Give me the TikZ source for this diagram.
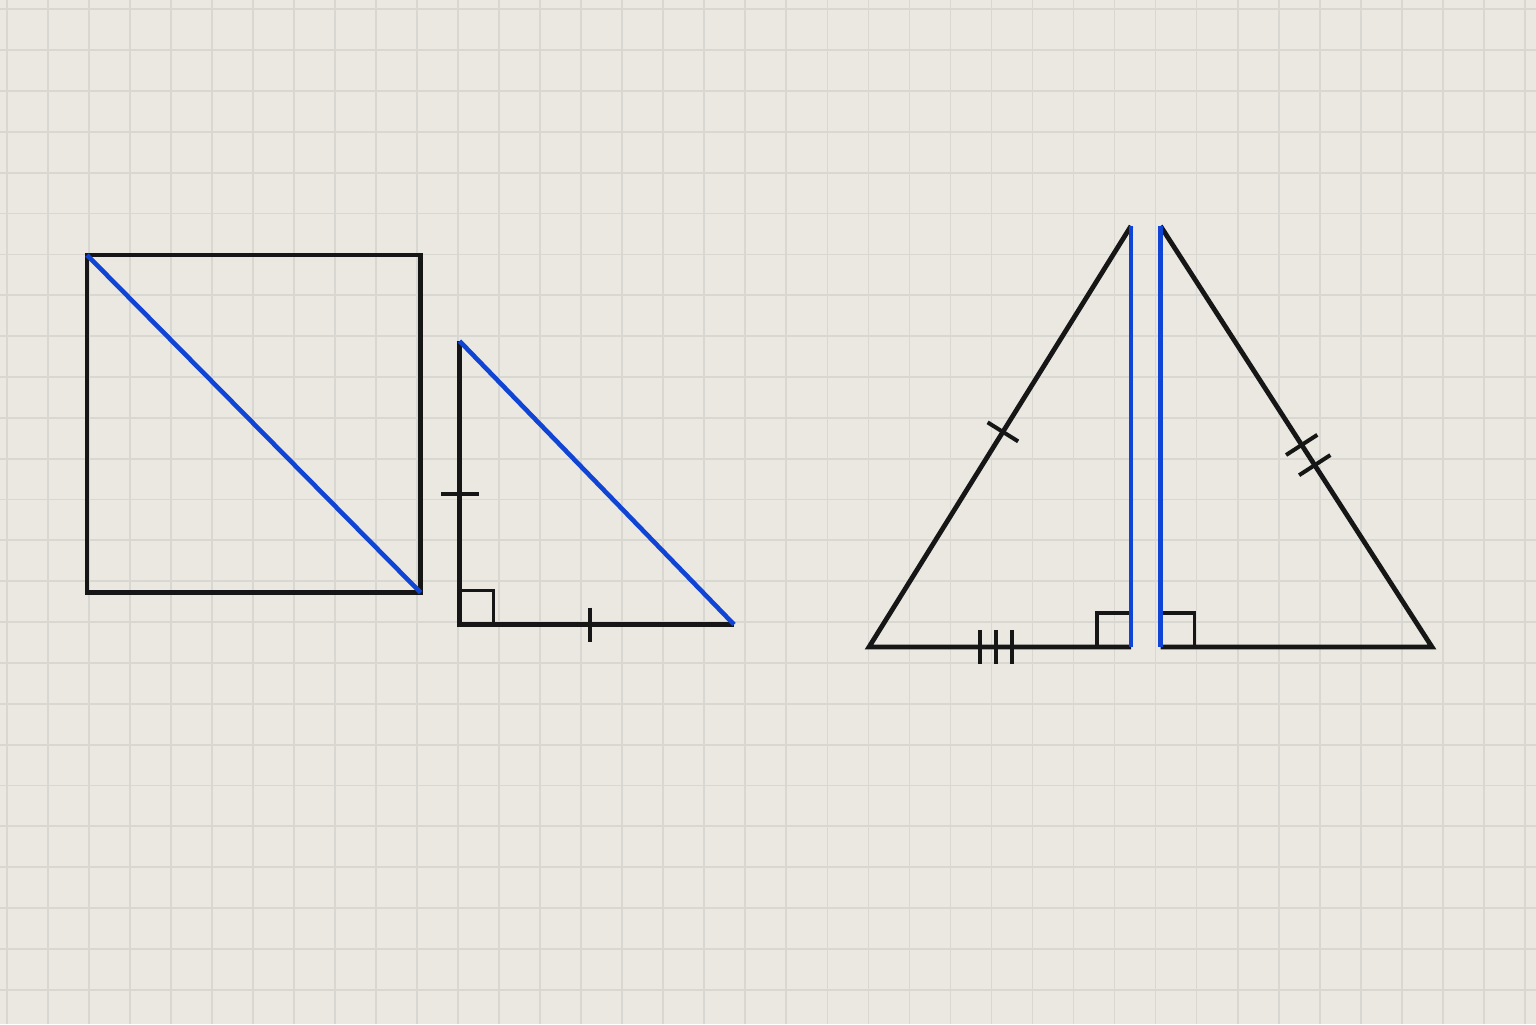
\documentclass[tikz,border=0pt]{standalone}
\usetikzlibrary{calc}
\definecolor{paper}{RGB}{234,232,225}
\definecolor{gridc}{RGB}{217,215,209}
\definecolor{inkc}{RGB}{22,22,22}
\definecolor{bluec}{RGB}{16,68,212}
\tikzset{
  edge/.style={draw=inkc,line width=2.4pt,line join=miter},
  blueedge/.style={draw=bluec,line width=2.3pt,line join=miter},
  tick/.style={draw=inkc,line width=2pt},
  rightmark/.style={draw=inkc,line width=1.8pt},
  gridline/.style={draw=gridc,line width=0.9pt}
}
\begin{document}
\begin{tikzpicture}[x=0.5pt,y=-0.5pt]
\useasboundingbox (0,0) rectangle (1536,1024);
\fill[paper] (0,0) rectangle (1536,1024);
% grid
\foreach \k in {0,...,37} {\draw[gridline] ({7+41.02*\k},0) -- ({7+41.02*\k},1024);}
\foreach \k in {0,...,24} {\draw[gridline] (0,{9.3+40.85*\k}) -- (1536,{9.3+40.85*\k});}

% ---------- square with diagonal ----------
\coordinate (SA) at (87,255);
\coordinate (SB) at (420.5,255);
\coordinate (SC) at (420.5,592.5);
\coordinate (SD) at (87,592.5);
\draw[edge] (SA) -- (SB) -- (SC) -- (SD) -- cycle;
\draw[blueedge] (SA) -- (SC);

% ---------- right isosceles triangle ----------
\coordinate (TA) at (459.5,341);
\coordinate (TR) at (459.5,624.5);
\coordinate (TB) at (734,624.5);
\draw[rightmark] ($(TR)+(0,-34)$) -- ($(TR)+(34,-34)$) -- ($(TR)+(34,0)$);
\draw[edge] (TA) -- (TR) -- (TB);
\draw[blueedge] (TA) -- (TB);
\coordinate (t1) at ($(TA)!0.539!(TR)$);
\draw[tick] ($(t1)!9.5pt!90:(TR)$) -- ($(t1)!9.5pt!-90:(TR)$);
\coordinate (t2) at ($(TR)!0.477!(TB)$);
\draw[tick] ($(t2)!8.5pt!90:(TB)$) -- ($(t2)!8.5pt!-90:(TB)$);

% ---------- left half of isosceles triangle ----------
\coordinate (LA) at (1131,226);
\coordinate (LL) at (869,647);
\coordinate (LF) at (1131,647);
\draw[rightmark] ($(LF)+(-34,0)$) -- ($(LF)+(-34,-34)$) -- ($(LF)+(0,-34)$);
\draw[edge] (LA) -- (LL) -- (LF);
\draw[blueedge] (LA) -- (LF);
\coordinate (l1) at ($(LL)!0.511!(LA)$);
\draw[tick] ($(l1)!9pt!90:(LA)$) -- ($(l1)!9pt!-90:(LA)$);
\foreach \t in {0.424,0.484,0.547} {
  \coordinate (b) at ($(LL)!\t!(LF)$);
  \draw[tick] ($(b)!8.5pt!90:(LF)$) -- ($(b)!8.5pt!-90:(LF)$);
}

% ---------- right half of isosceles triangle ----------
\coordinate (RA) at (1160.5,226);
\coordinate (RF) at (1160.5,647);
\coordinate (RR) at (1432,647);
\draw[rightmark] ($(RF)+(0,-34)$) -- ($(RF)+(34,-34)$) -- ($(RF)+(34,0)$);
\draw[edge] (RA) -- (RR) -- (RF);
\draw[blueedge] (RA) -- (RF);
\foreach \t in {0.52,0.568} {
  \coordinate (r) at ($(RA)!\t!(RR)$);
  \draw[tick] ($(r)!9.3pt!90:(RR)$) -- ($(r)!9.3pt!-90:(RR)$);
}
\end{tikzpicture}
\end{document}
